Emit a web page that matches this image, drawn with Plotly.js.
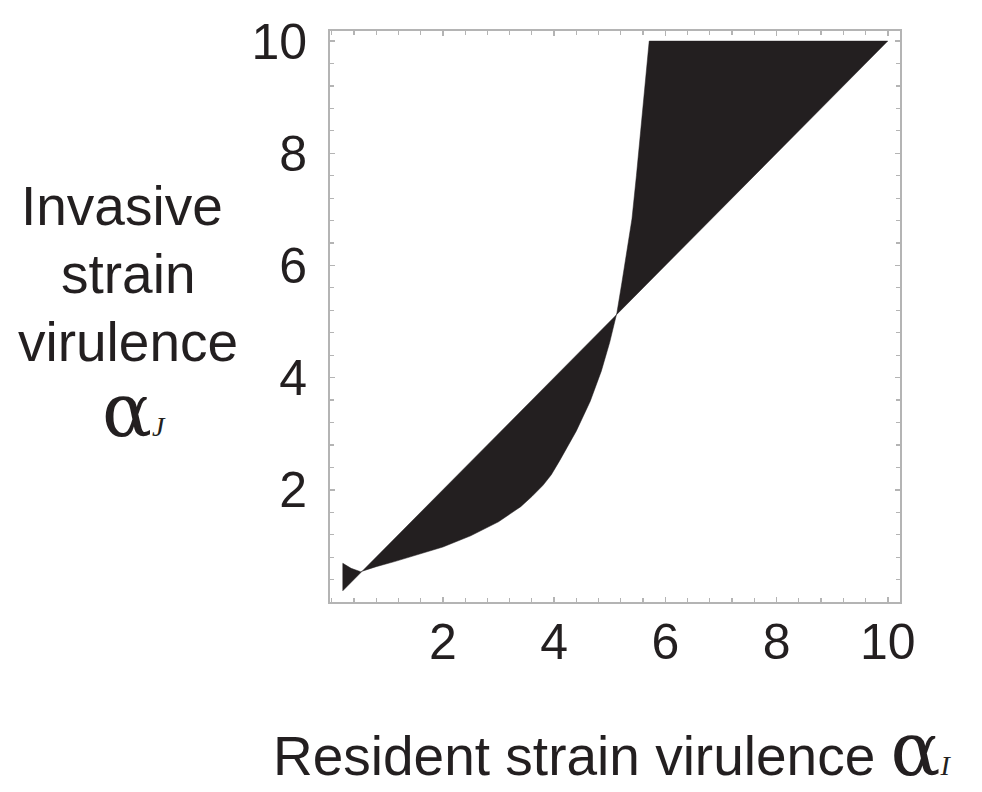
<!DOCTYPE html>
<html>
<head>
<meta charset="utf-8">
<script src="https://cdn.plot.ly/plotly-3.0.1.min.js"></script>
<style>html,body{margin:0;padding:0;background:#fff;}#chart{width:982px;height:792px;}</style>
</head>
<body>
<div id="chart"></div>
<script>
// Boundary curve of the invasion region (resident virulence -> invasive virulence)
const curveX = [0.20, 0.35, 0.52, 0.80, 1.13, 1.50, 2.00, 2.50, 3.00, 3.40, 3.60, 3.80, 3.95, 4.10, 4.40, 4.65, 4.85, 5.00, 5.13, 5.22, 5.31, 5.40, 5.48, 5.56, 5.64, 5.71];
const curveY = [0.69, 0.60, 0.54, 0.63, 0.72, 0.83, 0.98, 1.18, 1.43, 1.70, 1.88, 2.08, 2.27, 2.52, 3.05, 3.58, 4.12, 4.63, 5.16, 5.70, 6.30, 6.83, 7.60, 8.45, 9.25, 10.00];
// Upper limit edge and diagonal (alpha_J = alpha_I)
const topEdgeX = [10.0];
const topEdgeY = [10.0];
const diagonalX = [0.20];
const diagonalY = [0.20];
const tickValues = [2, 4, 6, 8, 10];
const tickLabels = ['2', '4', '6', '8', '10'];
const yTitleLines = ['Invasive', 'strain', 'virulence'];

const polyX = curveX.concat(topEdgeX, diagonalX, [curveX[0]]);
const polyY = curveY.concat(topEdgeY, diagonalY, [curveY[0]]);

const ink = '#231f20';
const frame = '#b4b4b4';

const trace = {
  x: polyX, y: polyY,
  type: 'scatter', mode: 'lines',
  fill: 'toself', fillcolor: ink,
  line: {width: 0.5, color: ink},
  hoverinfo: 'skip', showlegend: false
};

const axisCommon = {
  showline: true, linecolor: frame, linewidth: 2, mirror: 'ticks',
  ticks: 'inside', tickcolor: frame, ticklen: 5, tickwidth: 1.5,
  showgrid: false, zeroline: false,
  tickvals: tickValues, ticktext: tickLabels,
  tickfont: {family: 'Liberation Sans, Arial, sans-serif', size: 50, color: ink},
  minor: {dtick: 0.4, tick0: 0, ticks: 'inside', ticklen: 4, tickcolor: frame, tickwidth: 1.2, showgrid: false}
};

const alphaSpan = '<span style="font-family:DejaVu Serif;font-size:74px">α</span>';
const annotations = [];
const lineYs = [206, 274, 342];
const lineXs = [122, 128, 128];
yTitleLines.forEach((t, i) => {
  annotations.push({
    text: t, xref: 'paper', yref: 'paper',
    x: (lineXs[i] - 330) / 570, y: (602 - lineYs[i]) / 571,
    xanchor: 'center', yanchor: 'middle', showarrow: false,
    font: {family: 'Liberation Sans, Arial, sans-serif', size: 55, color: ink}
  });
});
annotations.push({
  text: alphaSpan + '<span style="font-family:Liberation Serif;font-size:28px"><i>J</i></span>',
  xref: 'paper', yref: 'paper',
  x: (134 - 330) / 570, y: (602 - 410) / 571,
  xanchor: 'center', yanchor: 'middle', showarrow: false,
  font: {family: 'Liberation Sans, Arial, sans-serif', size: 55, color: ink}
});
annotations.push({
  text: 'Resident strain virulence ' + alphaSpan + '<span style="font-family:Liberation Serif;font-size:28px"><i>I</i></span>',
  xref: 'paper', yref: 'paper',
  x: (612 - 330) / 570, y: (602 - 749) / 571,
  xanchor: 'center', yanchor: 'middle', showarrow: false,
  font: {family: 'Liberation Sans, Arial, sans-serif', size: 55, color: ink}
});

const layout = {
  width: 982, height: 792,
  margin: {l: 330, r: 82, t: 31, b: 190},
  paper_bgcolor: '#ffffff', plot_bgcolor: '#ffffff',
  showlegend: false,
  xaxis: Object.assign({}, axisCommon, {range: [-0.03, 10.22], ticklabelstandoff: -5}),
  yaxis: Object.assign({}, axisCommon, {range: [0, 10.18], ticklabelstandoff: 11}),
  annotations: annotations
};

Plotly.newPlot('chart', [trace], layout, {displayModeBar: false, staticPlot: true});
</script>
</body>
</html>
